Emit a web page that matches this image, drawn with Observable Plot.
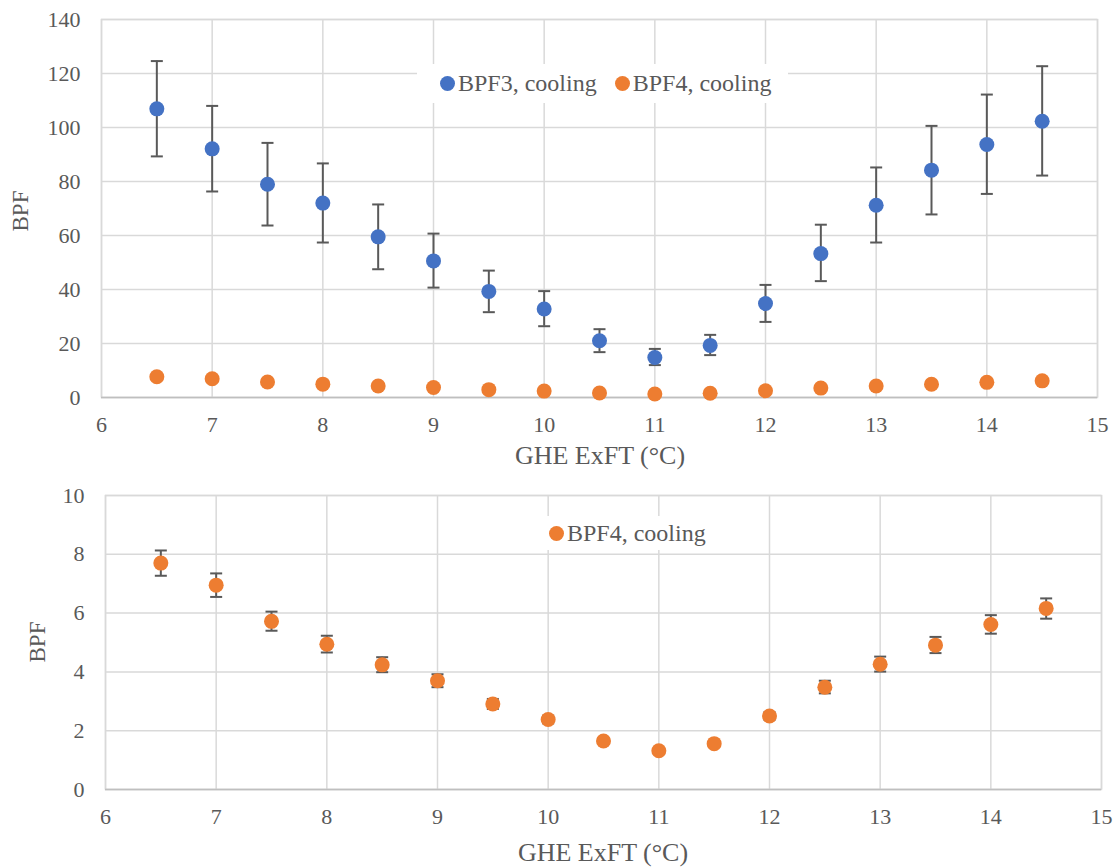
<!DOCTYPE html>
<html><head><meta charset="utf-8">
<script src="https://cdn.jsdelivr.net/npm/d3@7"></script>
<script src="https://cdn.jsdelivr.net/npm/@observablehq/plot@0.6"></script>
<style>
html,body{margin:0;padding:0;background:#fff;}
#wrap{position:relative;width:1118px;height:868px;font-family:"Liberation Serif","DejaVu Serif",serif;color:#595959;}
#wrap svg{display:block;}
#wrap svg text{font-size:22px !important;font-family:"Liberation Serif","DejaVu Serif",serif !important;fill:#595959;}
.legend{position:absolute;background:#fff;display:flex;align-items:center;font-size:24px;color:#595959;font-family:"Liberation Serif","DejaVu Serif",serif;white-space:nowrap;box-sizing:border-box;}
.legend .sw{display:inline-block;width:15px;height:15px;border-radius:50%;margin-right:3px;}
.legend .it{display:flex;align-items:center;}
.ttl{position:absolute;transform:translate(-50%,-50%);white-space:nowrap;font-family:"Liberation Serif","DejaVu Serif",serif;color:#595959;line-height:1;}
.rot{transform:translate(-50%,-50%) rotate(-90deg);}
</style></head>
<body><div id="wrap"><div id="c1"></div><div id="c2"></div>
<div class="legend" style="left:417px;top:64px;width:371px;height:39px;padding-left:23px;">
<span class="it"><span class="sw" style="background:#4472C4"></span>BPF3, cooling</span>
<span class="it" style="margin-left:18px"><span class="sw" style="background:#ED7D31"></span>BPF4, cooling</span>
</div>
<div class="legend" style="left:538px;top:516px;width:185px;height:34px;padding-left:11px;">
<span class="it"><span class="sw" style="background:#ED7D31"></span>BPF4, cooling</span>
</div>
<div class="ttl" style="left:600px;top:456px;font-size:26px;">GHE ExFT (°C)</div>
<div class="ttl" style="left:603px;top:853px;font-size:26px;">GHE ExFT (°C)</div>
<div class="ttl rot" style="left:20px;top:211px;font-size:23px;">BPF</div>
<div class="ttl rot" style="left:37px;top:642px;font-size:23px;">BPF</div>
</div>
<script>
const exft = [6.5, 7, 7.5, 8, 8.5, 9, 9.5, 10, 10.5, 11, 11.5, 12, 12.5, 13, 13.5, 14, 14.5];
const bpf3 = [106.9, 92.1, 79.0, 72.0, 59.5, 50.6, 39.3, 32.8, 21.0, 14.8, 19.3, 34.8, 53.3, 71.2, 84.2, 93.7, 102.3];
const bpf3Hi = [124.6, 108.0, 94.3, 86.7, 71.5, 60.7, 47.0, 39.4, 25.3, 18.0, 23.2, 41.7, 64.0, 85.2, 100.6, 112.2, 122.7];
const bpf3Lo = [89.3, 76.3, 63.7, 57.4, 47.5, 40.7, 31.6, 26.4, 16.8, 12.0, 15.7, 28.0, 43.1, 57.4, 67.8, 75.4, 82.2];
const bpf4 = [7.70, 6.95, 5.72, 4.94, 4.24, 3.70, 2.91, 2.38, 1.65, 1.32, 1.56, 2.50, 3.48, 4.26, 4.91, 5.61, 6.16];
const bpf4Hi = [8.13, 7.35, 6.05, 5.23, 4.50, 3.92, 3.08, 2.51, 1.74, 1.39, 1.64, 2.63, 3.70, 4.52, 5.19, 5.93, 6.50];
const bpf4Lo = [7.27, 6.55, 5.40, 4.66, 3.99, 3.48, 2.74, 2.25, 1.56, 1.25, 1.48, 2.37, 3.27, 4.01, 4.64, 5.30, 5.81];
const xTicks = [6, 7, 8, 9, 10, 11, 12, 13, 14, 15];
const yTicksTop = [0, 20, 40, 60, 80, 100, 120, 140];
const yTicksBottom = [0, 2, 4, 6, 8, 10];

const d3rows = exft.map((x, i) => ({x, y: bpf3[i], lo: bpf3Lo[i], hi: bpf3Hi[i]}));
const d4rows = exft.map((x, i) => ({x, y: bpf4[i], lo: bpf4Lo[i], hi: bpf4Hi[i]}));

const BLUE = "#4472C4", ORANGE = "#ED7D31", ERR = "#595959", GRID = "#d9d9d9", TXT = "#595959";
const cap = {draw(ctx, size) { const w = Math.sqrt(size / Math.PI); ctx.moveTo(-w, 0); ctx.lineTo(w, 0); }};
const FONT = "'Liberation Serif', 'DejaVu Serif', serif";

function errMarks(rows) {
  return [
    Plot.ruleX(rows, {x: "x", y1: "lo", y2: "hi", stroke: ERR, strokeWidth: 2}),
    Plot.dot(rows, {x: "x", y: "hi", symbol: cap, r: 6, stroke: ERR, strokeWidth: 2}),
    Plot.dot(rows, {x: "x", y: "lo", symbol: cap, r: 6, stroke: ERR, strokeWidth: 2})
  ];
}
function axes(yTicks) {
  return [
    Plot.gridX(xTicks, {stroke: GRID, strokeOpacity: 1, strokeWidth: 1.5}),
    Plot.gridY(yTicks, {stroke: GRID, strokeOpacity: 1, strokeWidth: 1.5}),
    Plot.frame({stroke: GRID, strokeWidth: 1.5}),
    Plot.ruleY([0], {stroke: "#bfbfbf", strokeWidth: 1.5}),
    Plot.axisX({ticks: xTicks, tickSize: 0, tickPadding: 19, fontSize: 22, label: null, fill: TXT}),
    Plot.axisY({ticks: yTicks, tickSize: 0, tickPadding: 21, fontSize: 22, label: null, fill: TXT})
  ];
}

const p1 = Plot.plot({
  width: 1118, height: 470,
  marginTop: 19, marginBottom: 73, marginLeft: 101, marginRight: 21,
  style: {fontFamily: FONT, fontSize: "22px", color: TXT, background: "#fff"},
  x: {domain: [6, 15]},
  y: {domain: [0, 140]},
  marks: [
    ...axes(yTicksTop),
    ...errMarks(d3rows),
    Plot.dot(d3rows, {x: "x", y: "y", r: 7.5, fill: BLUE}),
    Plot.dot(d4rows, {x: "x", y: "y", r: 7.5, fill: ORANGE})
  ]
});
const p2 = Plot.plot({
  width: 1118, height: 398,
  marginTop: 25, marginBottom: 79, marginLeft: 105, marginRight: 17,
  style: {fontFamily: FONT, fontSize: "22px", color: TXT, background: "#fff"},
  x: {domain: [6, 15]},
  y: {domain: [0, 10]},
  marks: [
    ...axes(yTicksBottom),
    ...errMarks(d4rows),
    Plot.dot(d4rows, {x: "x", y: "y", r: 7.5, fill: ORANGE})
  ]
});
document.getElementById("c1").appendChild(p1);
document.getElementById("c2").appendChild(p2);
</script></body></html>
